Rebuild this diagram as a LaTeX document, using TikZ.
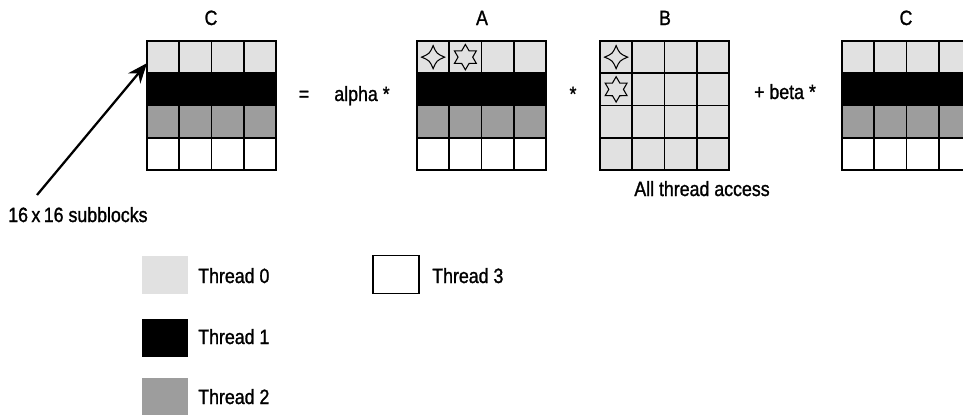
\documentclass[tikz,border=0pt]{standalone}
\usepackage{fontspec}
\setmainfont[FakeStretch=0.86,FakeBold=1.2]{Liberation Sans}
\usepackage{tikz}
\usetikzlibrary{shapes.geometric,arrows.meta,positioning}
\definecolor{thread0}{HTML}{E1E1E1}
\definecolor{thread2}{HTML}{9D9D9D}

\begin{document}
\begin{tikzpicture}[x=0.75pt,y=-0.75pt,
			cell node/.style={
				rectangle, draw=black, line width=1.3pt,
				minimum size=24.19pt, inner sep=0pt, outer sep=0pt},
			text node/.style={
				font=\fontsize{15.5}{18}\selectfont, inner sep=0pt, anchor=base},
			key node/.style={
				rectangle, minimum width=34.5pt, minimum height=28.5pt,
				inner sep=0pt, outer sep=0pt},
			mark node/.style={draw=black, line width=0.8pt}
			]
			\clip (0,0) rectangle (963,414);
			\useasboundingbox (0,0) rectangle (963,414);
			
			% the three matrices with one row per thread
			\foreach \m/\x in {Cl/147,A/417,Cr/842}
			\foreach \r/\col in {1/thread0,2/black,3/thread2,4/white}
			\foreach \c in {1,...,4}
			\node[cell node,fill=\col] (\m-\r-\c)
			at ({\x+16.125+(\c-1)*32.25},{41+16.125+(\r-1)*32.25}) {};
			% B is read by every thread
			\foreach \r in {1,...,4}
			\foreach \c in {1,...,4}
			\node[cell node,fill=thread0] (B-\r-\c)
			at ({600+16.125+(\c-1)*32.25},{41+16.125+(\r-1)*32.25}) {};
			
			% element marks
			\foreach \n in {A-1-1,B-1-1}
			\draw[mark node,shift={(\n)}] (0,-11.5) .. controls (3.5,-3.5) .. (11.5,0)
			.. controls (3.5,3.5) .. (0,11.5) .. controls (-3.5,3.5) .. (-11.5,0)
			.. controls (-3.5,-3.5) .. cycle;
			\node[mark node,star,star points=6,star point ratio=1.73,
			minimum size=19pt,inner sep=0pt] (s1) at (A-1-2) {};
			\node[mark node,star,star points=6,star point ratio=1.73,
			minimum size=19pt,inner sep=0pt] (s2) at (B-2-1) {};
			
			% titles and operators
			\node[text node] (tC1) at (211,25) {C};
			\node[text node] (tA) at (482,25) {A};
			\node[text node] (tB) at (665,25) {B};
			\node[text node] (tC2) at (906,25) {C};
			\node[text node] (eq) at (304,101) {=};
			\node[text node] (alpha) at (362,101) {alpha *};
			\node[text node] (times) at (573,101) {*};
			\node[text node] (beta) at (785,99) {+ beta *};
			\node[text node] (all) at (702,196) {All thread access};
			\node[text node,anchor=base west] (sub) at (8,222) {16\,x\,16 subblocks};
			
			\coordinate (tail) at (37,195);
			\draw[line width=1.7pt,-{Stealth[length=15pt,width=12pt]}]
			(tail) -- ([yshift=-4.5pt]Cl-1-1.west);
			
			% legend
			\node[key node,fill=thread0] (k0) at (165,275) {};
			\node[key node,fill=black] (k1) at (165,337.5) {};
			\node[key node,fill=thread2] (k2) at (165,397) {};
			\node[key node,fill=white,draw=black,line width=0.9pt] (k3) at (396,274.5) {};
			\node[text node,anchor=base west] (l0) at (198,283) {Thread 0};
			\node[text node,anchor=base west] (l1) at (198,344) {Thread 1};
			\node[text node,anchor=base west] (l2) at (198,404) {Thread 2};
			\node[text node,anchor=base west] (l3) at (432,283) {Thread 3};
		\end{tikzpicture}
\end{document}
